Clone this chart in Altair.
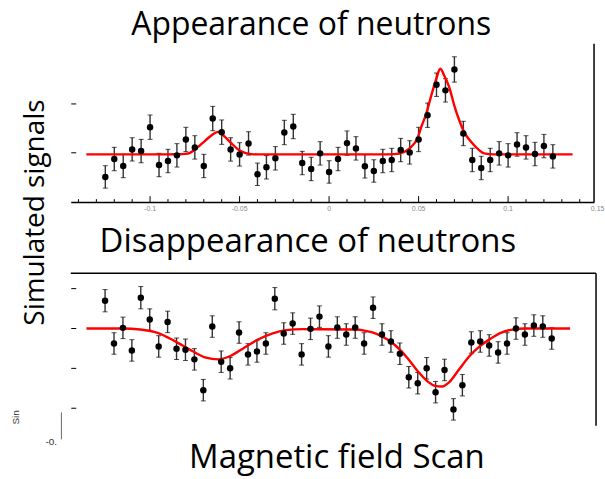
import altair as alt
import pandas as pd

# ---------------- data ----------------
x_pos = [-0.125, -0.12, -0.115, -0.11, -0.105, -0.1, -0.095, -0.09, -0.085, -0.08,
         -0.075, -0.07, -0.065, -0.06, -0.055, -0.05, -0.045, -0.04, -0.035, -0.03,
         -0.025, -0.02, -0.015, -0.01, -0.005, 0.0, 0.005, 0.01, 0.015, 0.02,
         0.025, 0.03, 0.035, 0.04, 0.045, 0.05, 0.055, 0.06, 0.065, 0.07,
         0.075, 0.08, 0.085, 0.09, 0.095, 0.1, 0.105, 0.11, 0.115, 0.12, 0.125]

appear_vals = [-0.503, -0.136, -0.279, 0.061, 0.027, 0.517, -0.259, -0.177, -0.061, 0.265,
               0.102, -0.279, 0.694, 0.415, 0.061, -0.041, 0.184, -0.449, -0.306, -0.122,
               0.408, 0.531, -0.218, -0.340, -0.020, -0.401, -0.136, 0.190, 0.082, -0.286,
               -0.381, -0.177, -0.156, 0.048, 0.000, 0.265, 0.762, 1.388, 1.272, 1.701,
               0.388, -0.156, -0.320, -0.156, -0.020, -0.061, 0.163, 0.102, -0.034, 0.129,
               -0.082]
appear_err = [0.23, 0.24, 0.24, 0.24, 0.24, 0.25, 0.24, 0.24, 0.24, 0.25,
              0.24, 0.24, 0.25, 0.25, 0.24, 0.24, 0.24, 0.23, 0.24, 0.24,
              0.25, 0.25, 0.24, 0.24, 0.24, 0.23, 0.24, 0.25, 0.24, 0.24,
              0.23, 0.24, 0.24, 0.24, 0.24, 0.25, 0.25, 0.24, 0.24, 0.26,
              0.25, 0.24, 0.24, 0.24, 0.24, 0.24, 0.24, 0.24, 0.24, 0.24,
              0.24]

disap_vals = [0.683, -0.392, 0.000, -0.567, 0.758, 0.208, -0.467, 0.150, -0.525, -0.550,
              -0.792, -1.567, 0.033, -0.850, -1.017, -0.117, -0.667, -0.592, -0.392, 0.733,
              -0.142, 0.108, -0.667, -0.025, 0.283, -0.467, 0.008, -0.167, 0.008, -0.392,
              0.508, -0.167, -0.342, -0.650, -1.242, -1.392, -1.017, -1.617, -1.058, -2.050,
              -1.442, -0.367, -0.342, -0.442, -0.617, -0.392, -0.017, -0.167, 0.058, 0.033,
              -0.267]
disap_err = [0.28, 0.27, 0.27, 0.27, 0.28, 0.27, 0.27, 0.27, 0.27, 0.27,
             0.27, 0.27, 0.27, 0.27, 0.27, 0.27, 0.27, 0.27, 0.27, 0.28,
             0.27, 0.27, 0.27, 0.27, 0.27, 0.27, 0.27, 0.27, 0.27, 0.27,
             0.27, 0.27, 0.27, 0.27, 0.27, 0.27, 0.27, 0.27, 0.27, 0.27,
             0.27, 0.27, 0.27, 0.27, 0.27, 0.27, 0.27, 0.27, 0.27, 0.27,
             0.27]

appear_fit_x = [-0.1356, -0.1100, -0.0916, -0.0840, -0.0805, -0.0777, -0.0731, -0.0693,
                -0.0656, -0.0619, -0.0582, -0.0545, -0.0508, -0.0470, -0.0433, -0.0398,
                0.0000, 0.0300, 0.0365, 0.0420, 0.0459, 0.0493, 0.0515, 0.0543, 0.0571,
                0.0599, 0.0621, 0.0643, 0.0671, 0.0699, 0.0727, 0.0754, 0.0793, 0.0838,
                0.0866, 0.0921, 0.1360]
appear_fit_v = [-0.041, -0.041, -0.041, -0.038, -0.030, -0.008, 0.114, 0.237,
                0.353, 0.420, 0.318, 0.184, 0.061, -0.008, -0.035, -0.041,
                -0.041, -0.041, -0.035, 0.012, 0.114, 0.286, 0.522, 0.796, 1.169,
                1.510, 1.714, 1.578, 1.339, 0.965, 0.659, 0.420, 0.216, 0.047,
                -0.020, -0.041, -0.041]

disap_fit_x = [-0.1354, -0.1150, -0.1053, -0.0956, -0.0860, -0.0762, -0.0685, -0.0617,
               -0.0549, -0.0471, -0.0394, -0.0316, -0.0238, -0.0141, 0.0150, 0.0208,
               0.0266, 0.0324, 0.0383, 0.0441, 0.0499, 0.0558, 0.0596, 0.0635, 0.0674,
               0.0732, 0.0790, 0.0848, 0.0907, 0.0965, 0.1023, 0.1101, 0.1353]
disap_fit_v = [-0.017, -0.017, -0.042, -0.125, -0.333, -0.583, -0.750, -0.792,
               -0.708, -0.500, -0.292, -0.142, -0.058, -0.033, -0.042, -0.075,
               -0.142, -0.275, -0.475, -0.750, -1.083, -1.358, -1.458, -1.475, -1.375,
               -1.042, -0.708, -0.458, -0.275, -0.125, -0.050, -0.017, -0.017]

major_ticks = [-0.1, -0.05, 0.0, 0.05, 0.1]
minor_ticks = [-0.14, -0.13, -0.12, -0.11, -0.09, -0.08, -0.07, -0.06, -0.04, -0.03,
               -0.02, -0.01, 0.01, 0.02, 0.03, 0.04, 0.06, 0.07, 0.08, 0.09,
               0.11, 0.12, 0.13, 0.14]
tick_label_vals = [-0.1, -0.05, 0.0, 0.05, 0.1, 0.15]
tick_label_text = ["-0.1", "-0.05", "0", "0.05", "0.1", "0.15"]

TITLE_FONT = "Open Sans"
TITLE_SIZE = 33
TOP_TITLE_SIZE = 32
YLAB_SIZE = 28

# ---------------- frames ----------------
top_df = pd.DataFrame({"x": x_pos, "v": appear_vals, "e": appear_err})
top_df["lo"] = top_df["v"] - top_df["e"]
top_df["hi"] = top_df["v"] + top_df["e"]
bot_df = pd.DataFrame({"x": x_pos, "v": disap_vals, "e": disap_err})
bot_df["lo"] = bot_df["v"] - bot_df["e"]
bot_df["hi"] = bot_df["v"] + bot_df["e"]
top_fit = pd.DataFrame({"x": appear_fit_x, "v": appear_fit_v})
bot_fit = pd.DataFrame({"x": disap_fit_x, "v": disap_fit_v})
one = pd.DataFrame({"a": [0]})

W1, H1 = 525, 159
W2, H2 = 527, 153

xs_top = alt.Scale(domain=[-0.1443, 0.148], nice=False, zero=False)
ys_top = alt.Scale(domain=[-1.02, 2.23], nice=False, zero=False)
xs_bot = alt.Scale(domain=[-0.1442, 0.1498], nice=False, zero=False)
ys_bot = alt.Scale(domain=[-2.46, 1.375], nice=False, zero=False)

ax_top_x = alt.Axis(ticks=False, labels=False, domain=True, domainColor="black",
                    domainWidth=1.5, grid=False)
ax_top_y = alt.Axis(values=[0, 1], labels=False, domain=False, ticks=True,
                    tickSize=5, tickColor="black", tickWidth=1, offset=-5, grid=False)
ax_bot_y = alt.Axis(values=[-2, -1, 0, 1], labels=False, domain=False, ticks=True,
                    tickSize=5, tickColor="black", tickWidth=1, offset=-5, grid=False)


def X_top(field="x"):
    return alt.X(f"{field}:Q", scale=xs_top, axis=ax_top_x, title=None)


def Y_top(field):
    return alt.Y(f"{field}:Q", scale=ys_top, axis=ax_top_y, title=None)


def X_bot(field="x"):
    return alt.X(f"{field}:Q", scale=xs_bot, axis=None)


def Y_bot(field):
    return alt.Y(f"{field}:Q", scale=ys_bot, axis=ax_bot_y, title=None)


def panel(df, fit, X, Y):
    bars = alt.Chart(df).mark_rule(color="#333333", strokeWidth=1.4).encode(
        x=X(), y=Y("lo"), y2="hi")
    cap_lo = alt.Chart(df).mark_tick(color="black", orient="horizontal", size=5,
                                     thickness=1).encode(x=X(), y=Y("lo"))
    cap_hi = alt.Chart(df).mark_tick(color="black", orient="horizontal", size=5,
                                     thickness=1).encode(x=X(), y=Y("hi"))
    pts = alt.Chart(df).mark_circle(color="black", size=42, opacity=1).encode(
        x=X(), y=Y("v"))
    line = alt.Chart(fit).mark_line(color="#ff0000", strokeWidth=2.4,
                                    interpolate="monotone").encode(x=X(), y=Y("v"))
    return [bars, cap_lo, cap_hi, line, pts]


def txt(text, x, y, size, font=TITLE_FONT, angle=0, align="center",
        baseline="alphabetic", color="black"):
    return alt.Chart(one).mark_text(
        text=text, font=font, fontSize=size, angle=angle, align=align,
        baseline=baseline, color=color).encode(x=alt.value(x), y=alt.value(y))


# ---------------- top panel ----------------
anchor = alt.Chart(one).mark_rule(color="white", strokeWidth=1).encode(
    x=alt.value(-69.9), x2=alt.value(-68.9), y=alt.value(-42.5), y2=alt.value(-42.5))
maj = alt.Chart(pd.DataFrame({"x": major_ticks})).mark_rule(
    color="black", strokeWidth=1).encode(x=X_top(), y=alt.value(H1), y2=alt.value(H1 - 6))
mino = alt.Chart(pd.DataFrame({"x": minor_ticks})).mark_rule(
    color="black", strokeWidth=1).encode(x=X_top(), y=alt.value(H1), y2=alt.value(H1 - 3))
lab = alt.Chart(pd.DataFrame({"x": tick_label_vals, "t": tick_label_text})).mark_text(
    font="Liberation Sans", fontSize=7, color="#888888", baseline="top").encode(
    x=X_top(), y=alt.value(H1 + 3), text="t:N")
border_r1 = alt.Chart(one).mark_rule(color="black", strokeWidth=1.5).encode(
    x=alt.value(W1), y=alt.value(0), y2=alt.value(H1))

top = alt.layer(
    anchor, maj, mino, lab, border_r1,
    *panel(top_df, top_fit, X_top, Y_top),
    txt("Appearance of neutrons", 241.3, -8.6, TOP_TITLE_SIZE),
    txt("Simulated signals", -27.1, 169.5, YLAB_SIZE, angle=270),
).properties(width=W1, height=H1)

# ---------------- bottom panel ----------------
border_t2 = alt.Chart(one).mark_rule(color="black", strokeWidth=1.5).encode(
    x=alt.value(0), x2=alt.value(W2), y=alt.value(0), y2=alt.value(0))
border_r2 = alt.Chart(one).mark_rule(color="black", strokeWidth=1.5).encode(
    x=alt.value(W2), y=alt.value(0), y2=alt.value(H2))
stray = alt.Chart(one).mark_rule(color="#666666", strokeWidth=1).encode(
    x=alt.value(-9.4), y=alt.value(139.7), y2=alt.value(166.7))
anchor_br = alt.Chart(one).mark_rule(color="white", strokeWidth=1).encode(
    x=alt.value(533.6), x2=alt.value(534.1), y=alt.value(205.2), y2=alt.value(205.2))

bottom = alt.layer(
    anchor_br, border_t2, border_r2, stray,
    *panel(bot_df, bot_fit, X_bot, Y_bot),
    txt("Disappearance of neutrons", 237.9, -21.3, TITLE_SIZE),
    txt("Magnetic field Scan", 267.0, 195.4, TITLE_SIZE),
    txt("Sin", -52.1, 144.7, 10, font="Liberation Sans", angle=270, color="#333333"),
    txt("-0.", -13.7, 172.4, 10, font="Liberation Sans", align="right", color="#333333"),
).properties(width=W2, height=H2)

chart = alt.vconcat(top, bottom, spacing=71.3, bounds="flush").properties(
    padding=0, background="white"
).configure_view(stroke=None)

chart.save("out.html", embed_options={"renderer": "svg", "actions": False})
